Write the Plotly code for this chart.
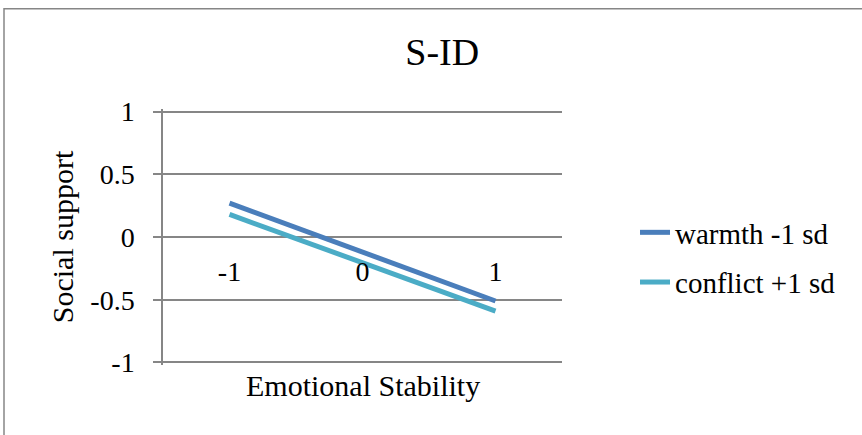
import plotly.graph_objects as go

categories = ["-1", "0", "1"]
warmth = [0.27, -0.12, -0.51]
conflict = [0.18, -0.205, -0.59]
series_names = ["warmth -1 sd", "conflict +1 sd"]
y_ticks = [-1, -0.5, 0, 0.5, 1]
y_tick_labels = ["-1", "-0.5", "0", "0.5", "1"]
x_title = "Emotional Stability"
y_title = "Social support"
chart_title = "S-ID"

FONT = "Liberation Serif"
GRAY = "#868686"

# pixel geometry of the plot area (y = 1 at 111.7px, y = -1 at 362.7px)
PX_PER_UNIT = (362.7 - 111.7) / 2
Y_PAD = 0.02
top_px = 111.7 - Y_PAD * PX_PER_UNIT
bot_px = 362.7 + Y_PAD * PX_PER_UNIT
plot_h = bot_px - top_px

fig = go.Figure()
fig.add_trace(go.Scatter(x=categories, y=warmth, mode="lines", name=series_names[0],
                         legendgroup="a",
                         line=dict(color="#4a7ebb", width=5)))
fig.add_trace(go.Scatter(x=categories, y=conflict, mode="lines", name=series_names[1],
                         legendgroup="b",
                         line=dict(color="#4bacc6", width=5)))

fig.update_layout(
    width=862, height=435,
    margin=dict(l=163, r=300, t=top_px, b=435 - bot_px, autoexpand=False),
    paper_bgcolor="white", plot_bgcolor="white",
    font=dict(family=FONT, color="black", size=26),
    title=dict(text=chart_title, font=dict(family=FONT, size=38, color="black"),
               x=0.513, xref="container", xanchor="center",
               y=1 - 52 / 435, yref="container", yanchor="middle"),
    xaxis=dict(type="category", categoryorder="array", categoryarray=categories,
               range=[-0.5, 2.5], anchor="free", position=0.5,
               showgrid=False, showline=False, zeroline=False, ticks="",
               ticklabelstandoff=15, automargin=False,
               tickfont=dict(family=FONT, size=28, color="black")),
    yaxis=dict(range=[-1 - Y_PAD, 1 + Y_PAD], tickvals=y_ticks, ticktext=y_tick_labels,
               showgrid=True, gridcolor=GRAY, gridwidth=1.5,
               zeroline=False, showline=True, linecolor=GRAY, linewidth=1.5,
               ticks="outside", ticklen=8, tickcolor=GRAY, tickwidth=1.5,
               ticklabelstandoff=13, automargin=False,
               tickfont=dict(family=FONT, size=28, color="black"),
               title=dict(text=y_title, standoff=8,
                          font=dict(family=FONT, size=30, color="black"))),
    legend=dict(x=1.183, xanchor="left", y=0.42, yanchor="middle",
                font=dict(family=FONT, size=29, color="black"),
                tracegroupgap=9, bgcolor="rgba(0,0,0,0)"),
    showlegend=True,
)

fig.add_annotation(text=x_title, xref="paper", yref="paper", x=0.5,
                   y=-(386 - bot_px) / plot_h, yanchor="middle", showarrow=False,
                   font=dict(family=FONT, size=30, color="black"))

# Outer chart border (extends past the right and bottom edges as in the reference)
fig.add_shape(type="rect", xref="paper", yref="paper",
              x0=(4 - 163) / 399, x1=(880 - 163) / 399,
              y0=(bot_px - 450) / plot_h, y1=(bot_px - 9) / plot_h,
              line=dict(color=GRAY, width=1.5), layer="below")

fig.write_html("out.html", config={"displayModeBar": False},
               post_script="document.body.style.margin='0';")
